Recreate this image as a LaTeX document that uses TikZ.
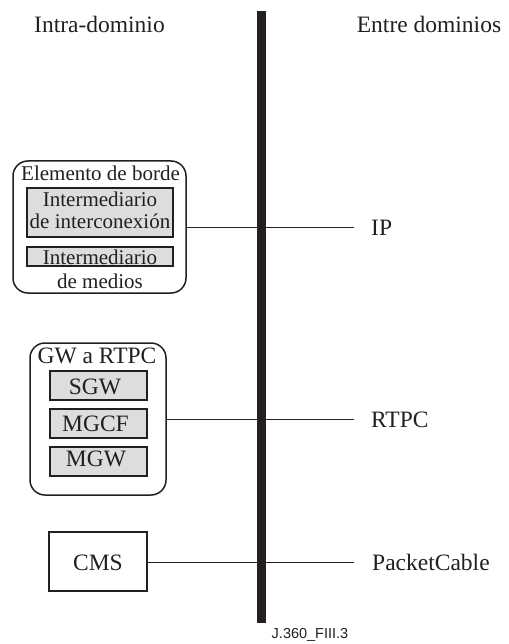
\documentclass[tikz,border=0pt]{standalone}
\usepackage{fontspec}
\setmainfont{Liberation Serif}
\newfontfamily\figsans{Liberation Sans}
\definecolor{ink}{RGB}{35,31,32}
\definecolor{boxgray}{RGB}{221,221,221}
\tikzset{
  big/.style={font=\fontsize{23.5}{23.5}\selectfont, text=ink, inner sep=0pt},
  small/.style={font=\fontsize{21}{21}\selectfont, text=ink, inner sep=0pt},
  group/.style={draw=ink, line width=1.5pt, rounded corners=15pt, inner sep=0pt},
  part/.style={draw=ink, fill=boxgray, line width=2pt, inner sep=0pt},
  plainbox/.style={draw=ink, line width=2pt, inner sep=0pt},
  link/.style={draw=ink, line width=1pt},
}
\begin{document}
\begin{tikzpicture}[x=1pt, y=-1pt]
\useasboundingbox (0,0) rectangle (508,644);

% domain divider
\fill[ink] (257,11) rectangle (266,623);
\node[big, anchor=base] (intra) at (99.5,33) {Intra-dominio};
\node[big, anchor=base] (entre) at (429,33) {Entre dominios};

% border element
\node[group, minimum width=173pt, minimum height=132pt] (borde) at (99.5,227) {};
\node[small, anchor=base] (bordet) at (100.5,181) {Elemento de borde};
\node[part, minimum width=146pt, minimum height=49pt] (inter) at (100,212.5) {};
\node[small, anchor=base] at (100,207) {Intermediario};
\node[small, anchor=base] at (100,228) {de interconexión};
\node[part, minimum width=146pt, minimum height=19pt] (medios) at (100,256.5) {};
\node[small, anchor=base] at (100,264.5) {Intermediario};
\node[small, anchor=base] at (100,288) {de medios};

% PSTN gateway
\node[group, minimum width=136pt, minimum height=152pt] (gw) at (98,419) {};
\node[big, anchor=base] (gwt) at (97,363) {GW a RTPC};
\node[part, minimum width=97pt, minimum height=29pt] (sgw) at (98.5,385.5) {};
\node[big, anchor=base] at (95,394) {SGW};
\node[part, minimum width=97pt, minimum height=29pt] (mgcf) at (98.5,423.5) {};
\node[big, anchor=base] at (95.5,431.5) {MGCF};
\node[part, minimum width=97pt, minimum height=29pt] (mgw) at (98.5,461.5) {};
\node[big, anchor=base] at (96,466.5) {MGW};

% CMS
\node[plainbox, minimum width=98pt, minimum height=59pt] (cms) at (98,561.5) {};
\node[big, anchor=base] at (98,570) {CMS};

% inter-domain labels
\node[big, anchor=base west] (ip) at (371,235) {IP};
\node[big, anchor=base west] (rtpc) at (371,427) {RTPC};
\node[big, anchor=base west] (pc) at (372,570) {PacketCable};
\coordinate (ipend) at (354,227);
\coordinate (rtpcend) at (354,419);
\coordinate (pcend) at (354,562.5);

\draw[link] (borde.east) -- (ipend);
\draw[link] (gw.east) -- (rtpcend);
\draw[link] (cms.east |- pcend) -- (pcend);

\node[font=\figsans\fontsize{14.5}{14.5}\selectfont, text=ink, inner sep=0pt, anchor=base] (fig) at (310,638) {J.360\_FIII.3};
\end{tikzpicture}
\end{document}
